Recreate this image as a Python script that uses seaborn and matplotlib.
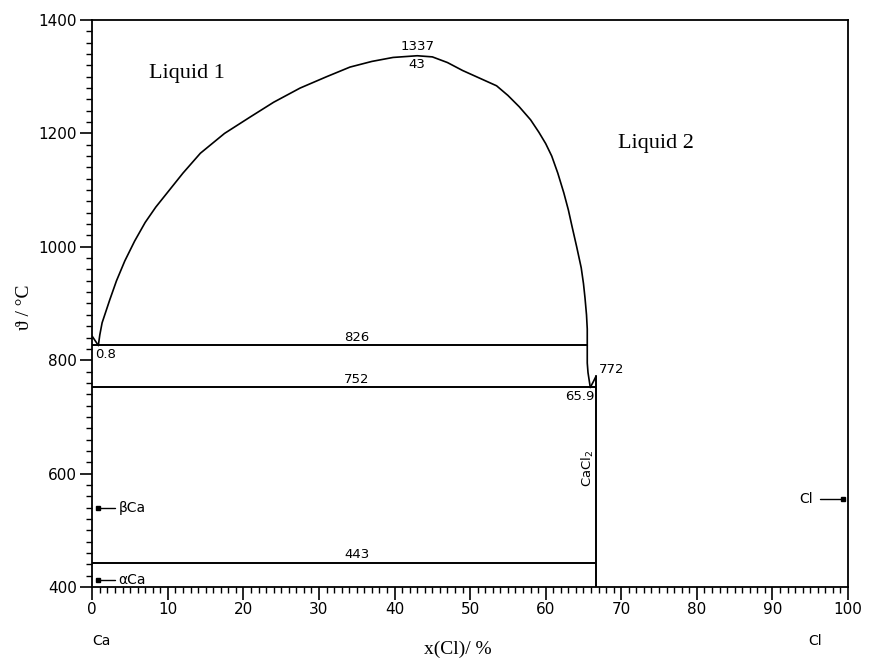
import matplotlib
matplotlib.use("Agg")
import matplotlib.pyplot as plt
import matplotlib.transforms as mtransforms
from matplotlib.ticker import MultipleLocator
import numpy as np
import pandas as pd
import seaborn as sns

# ---- data ----
# miscibility gap (L1 + L2), left to right
gap_x = [0.8, 1.0, 1.3, 1.8, 2.3, 3.2, 4.3, 5.6, 7.0, 8.4, 9.9, 12.0, 14.3, 17.5,
         20.9, 24.0, 27.5, 31.0, 34.1, 37.0, 39.8, 43.0, 45.0, 47.0, 49.0, 51.0,
         53.5, 55.0, 56.5, 58.0, 59.1, 60.0, 60.8, 61.6, 62.4, 63.0, 63.5, 64.1,
         64.7, 65.0, 65.2, 65.4, 65.5, 65.5]
gap_t = [826, 845, 866, 886, 906, 940, 975, 1010, 1043, 1070, 1095, 1130, 1165, 1200,
         1229, 1255, 1280, 1300, 1317, 1327, 1334, 1337, 1335, 1325, 1311, 1299,
         1284, 1267, 1247, 1224, 1202, 1182, 1160, 1130, 1095, 1065, 1035, 1000,
         963, 935, 910, 880, 855, 826]
# Ca-rich liquidus from Ca melting point down to monotectic
ca_liq_x = [0.0, 0.8]
ca_liq_t = [842, 826]
# liquid 2 liquidus below monotectic down to eutectic
l2_x = [65.5, 65.5, 65.6, 65.9]
l2_t = [826, 795, 778, 752]
# CaCl2 liquidus
cacl2_liq_x = [66.67, 66.3, 65.9]
cacl2_liq_t = [772, 762, 752]
# CaCl2 compound line
cacl2_x = [66.67, 66.67]
cacl2_t = [400, 772]
# invariant horizontals: temperature, x start, x end
inv_t = [826, 752, 443]
inv_x0 = [0.0, 0.0, 0.0]
inv_x1 = [65.5, 66.67, 66.67]

# pure element markers
mark_names = ["βCa", "αCa", "Cl"]
mark_x = [0.8, 0.8, 99.4]
mark_t = [540, 412, 556]

x_ticks = list(range(0, 101, 10))
y_ticks = list(range(400, 1401, 200))

sns.set_theme(style="ticks")
plt.rcParams["font.family"] = ["DejaVu Sans"]
plt.rcParams["text.color"] = "black"

fig = plt.figure(figsize=(8.69, 6.61), dpi=100)
ax = fig.add_axes([0.1062, 0.112, 0.8696, 0.8577])

lw_curve = 1.2
lw_line = 1.4

def seg(xs, ts, lw):
    df = pd.DataFrame({"x": xs, "t": ts})
    sns.lineplot(data=df, x="x", y="t", sort=False, estimator=None,
                 color="black", linewidth=lw, ax=ax)

seg(gap_x, gap_t, lw_curve)
seg(ca_liq_x, ca_liq_t, lw_curve)
seg(l2_x, l2_t, lw_curve)
seg(cacl2_liq_x, cacl2_liq_t, lw_curve)
seg(cacl2_x, cacl2_t, lw_line)
ax.hlines(inv_t, inv_x0, inv_x1, color="black", linewidth=lw_line)

# element markers with short arrows
for name, mx, mt in zip(mark_names, mark_x, mark_t):
    if mx < 50:
        ax.plot([mx, mx + 2.2], [mt, mt], color="black", linewidth=1.0)
        ax.plot([mx], [mt], "s", color="black", markersize=3)
        ax.text(mx + 2.7, mt, name, ha="left", va="center", fontsize=10)
    else:
        ax.plot([mx - 3.1, mx], [mt, mt], color="black", linewidth=1.0)
        ax.plot([mx], [mt], "s", color="black", markersize=3)
        ax.text(mx - 4.0, mt, name, ha="right", va="center", fontsize=10)

small = 9.5
ax.text(43, 1341, "1337", ha="center", va="bottom", fontsize=small)
ax.text(43, 1333, "43", ha="center", va="top", fontsize=small)
ax.text(35, 829, "826", ha="center", va="bottom", fontsize=small)
ax.text(35, 755, "752", ha="center", va="bottom", fontsize=small)
ax.text(35, 446, "443", ha="center", va="bottom", fontsize=small)
ax.text(0.4, 822, "0.8", ha="left", va="top", fontsize=small)
ax.text(67.0, 784, "772", ha="left", va="center", fontsize=small)
ax.text(66.4, 748, "65.9", ha="right", va="top", fontsize=small)
ax.text(65.6, 610, "CaCl$_2$", ha="center", va="center", rotation=90, fontsize=small)

serif = ["Liberation Serif", "DejaVu Serif"]
ax.text(12.5, 1306, "Liquid 1", ha="center", va="center", fontsize=16, family=serif)
ax.text(74.6, 1183, "Liquid 2", ha="center", va="center", fontsize=16, family=serif)

# axes setup
ax.set_xlim(0, 100)
ax.set_ylim(400, 1400)
ax.set_xticks(x_ticks)
ax.set_yticks(y_ticks)
ax.xaxis.set_minor_locator(MultipleLocator(1))
ax.yaxis.set_minor_locator(MultipleLocator(20))
ax.tick_params(axis="both", which="major", direction="out", length=9, width=1.2,
               labelsize=11, color="black", labelcolor="black", pad=2)
ax.tick_params(axis="both", which="minor", direction="out", length=4.5, width=1.0,
               color="black")
for s in ax.spines.values():
    s.set_color("black")
    s.set_linewidth(1.3)
    s.set_visible(True)
ax.grid(False)
ax.set_xlabel("")
ax.set_ylabel("")

trans = mtransforms.blended_transform_factory(ax.transData, ax.transAxes)
ax.text(0, -0.095, "Ca", ha="left", va="center", fontsize=10, transform=trans)
ax.text(95.6, -0.095, "Cl", ha="center", va="center", fontsize=10, transform=trans)
ax.text(48.4, -0.11, "x(Cl)/ %", ha="center", va="center", fontsize=14,
        family=serif, transform=trans)
ax.text(-0.09, 0.494, "ϑ / °C", ha="center", va="center", rotation=90,
        fontsize=14, family=serif, transform=ax.transAxes)

fig.savefig("out.png", dpi=100, facecolor="white")
